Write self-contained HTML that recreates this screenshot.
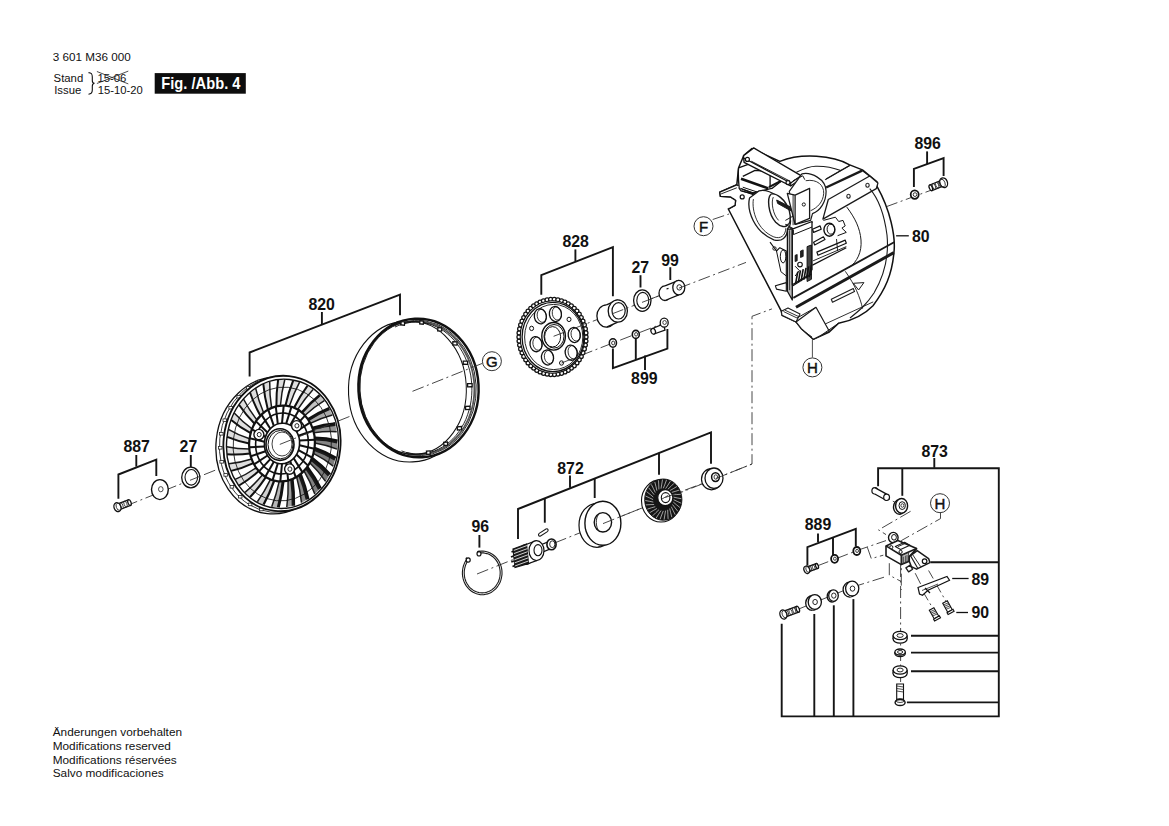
<!DOCTYPE html>
<html><head><meta charset="utf-8"><style>
html,body{margin:0;padding:0;background:#fff;}
body{width:1169px;height:826px;overflow:hidden;position:relative;}
svg{position:absolute;left:0;top:0;}
.lb{font-family:"Liberation Sans",sans-serif;font-weight:bold;fill:#111;}
.tx{font-family:"Liberation Sans",sans-serif;fill:#111;}
.br{fill:none;stroke:#151515;stroke-width:1.9;stroke-linecap:butt;stroke-linejoin:miter;}
.pt{fill:#fff;stroke:#111;stroke-width:1.3;}
.pn{fill:none;stroke:#111;stroke-width:1.3;}
.ld{fill:none;stroke:#111;stroke-width:1.3;}
.th{fill:none;stroke:#222;stroke-width:0.8;}
.bk{fill:#1a1a1a;stroke:none;}
.ax{fill:none;stroke:#333;stroke-width:0.9;stroke-dasharray:12 3.5 2 3.5;}
.cl{fill:#fff;stroke:#333;stroke-width:1;}
.cll{font-family:"Liberation Sans",sans-serif;font-weight:normal;font-size:15px;fill:#111;stroke:#111;stroke-width:0.45;text-anchor:middle;}
</style></head><body>
<svg width="1169" height="826" viewBox="0 0 1169 826">
<text transform="translate(52.8 61.1) scale(1.0 1)" class="tx" style="font-size:11.7px">3 601 M36 000</text>
<text transform="translate(53.6 81.8) scale(0.97 1)" class="tx" style="font-size:11.7px">Stand</text>
<text transform="translate(54.2 93.8) scale(0.97 1)" class="tx" style="font-size:11.7px">Issue</text>
<text transform="translate(97.4 82.2) scale(0.97 1)" class="tx" style="font-size:11.7px">15-06</text>
<text transform="translate(97.8 93.8) scale(0.96 1)" class="tx" style="font-size:11.7px">15-10-20</text>
<line x1="96.9" y1="71.5" x2="128.3" y2="83.9" class="th"/>
<line x1="96.9" y1="83.5" x2="128.3" y2="71.1" class="th"/>
<path d="M88.5,72.6 C92,72.8 92.3,74.5 92.3,77 L92.3,80.5 C92.3,82.3 93,83.2 94.5,83.3 C93,83.5 92.3,84.4 92.3,86.2 L92.3,90 C92.3,92.8 91.5,94 88.5,94.2" class="pn" style="stroke-width:1.1;stroke:#111"/>
<rect x="154.7" y="73.1" width="91.1" height="20.6" fill="#0d0d0d"/>
<text transform="translate(161.3 89) scale(0.845 1)" class="lb" style="font-size:17.4px;fill:#fff">Fig. /Abb. 4</text>
<text transform="translate(52.7 736.1) scale(1.01 1)" class="tx" style="font-size:11.7px">Änderungen vorbehalten</text>
<text transform="translate(52.7 749.8) scale(1.01 1)" class="tx" style="font-size:11.7px">Modifications reserved</text>
<text transform="translate(52.7 763.5) scale(1.01 1)" class="tx" style="font-size:11.7px">Modifications réservées</text>
<text transform="translate(52.7 777.2) scale(1.01 1)" class="tx" style="font-size:11.7px">Salvo modificaciones</text>
<text transform="translate(123.5 451.7) scale(0.955 1)" class="lb" style="font-size:16.6px">887</text>
<line x1="136.3" y1="455.0" x2="136.3" y2="466.6" class="br"/>
<polyline points="118.4,498.7 118.4,474.5 156.3,459.7 156.3,475.9" class="br" />
<text transform="translate(179.6 451.8) scale(0.955 1)" class="lb" style="font-size:16.6px">27</text>
<line x1="190.8" y1="455.0" x2="190.8" y2="467.0" class="br"/>
<text transform="translate(308.4 309.6) scale(0.955 1)" class="lb" style="font-size:16.6px">820</text>
<line x1="321.9" y1="312.0" x2="321.9" y2="324.7" class="br"/>
<polyline points="249.6,376.5 249.6,352.5 400.0,294.7 400.0,315.2" class="br" />
<text transform="translate(562.4 246.9) scale(0.955 1)" class="lb" style="font-size:16.6px">828</text>
<line x1="575.4" y1="249.4" x2="575.4" y2="261.0" class="br"/>
<polyline points="541.3,294.8 541.3,275.2 612.9,247.1 612.9,296.3" class="br" />
<text transform="translate(631.5 273.2) scale(0.955 1)" class="lb" style="font-size:16.6px">27</text>
<line x1="640.5" y1="275.2" x2="640.5" y2="287.5" class="br"/>
<text transform="translate(661.3 265.5) scale(0.955 1)" class="lb" style="font-size:16.6px">99</text>
<line x1="670.3" y1="267.2" x2="670.3" y2="280.0" class="br"/>
<text transform="translate(631.1 383.5) scale(0.955 1)" class="lb" style="font-size:16.6px">899</text>
<line x1="645.0" y1="355.5" x2="645.0" y2="370.0" class="br"/>
<polyline points="612.9,348.5 612.9,368.1 667.4,348.6 667.4,329.0" class="br" />
<line x1="635.8" y1="338.8" x2="635.8" y2="359.9" class="br"/>
<text transform="translate(914.4 148.5) scale(0.955 1)" class="lb" style="font-size:16.6px">896</text>
<line x1="927.1" y1="151.4" x2="927.1" y2="164.0" class="br"/>
<polyline points="913.9,187.0 913.9,168.8 943.6,158.1 943.6,176.0" class="br" />
<text transform="translate(911.9 241.5) scale(0.955 1)" class="lb" style="font-size:16.6px">80</text>
<line x1="896.1" y1="235.8" x2="908.8" y2="235.8" class="ld"/>
<text transform="translate(557.3 473.5) scale(0.955 1)" class="lb" style="font-size:16.6px">872</text>
<line x1="570.0" y1="475.6" x2="570.0" y2="487.8" class="br"/>
<polyline points="518.0,539.0 518.0,509.0 711.0,432.3 711.0,463.8" class="br" />
<line x1="544.8" y1="498.5" x2="544.8" y2="522.7" class="br"/>
<line x1="594.7" y1="478.7" x2="594.7" y2="498.0" class="br"/>
<line x1="659.0" y1="452.8" x2="659.0" y2="474.7" class="br"/>
<text transform="translate(471.5 532.1) scale(0.955 1)" class="lb" style="font-size:16.6px">96</text>
<line x1="479.4" y1="535.0" x2="479.4" y2="547.6" class="br"/>
<text transform="translate(921.4 456.5) scale(0.955 1)" class="lb" style="font-size:16.6px">873</text>
<line x1="934.3" y1="458.0" x2="934.3" y2="467.8" class="br"/>
<polyline points="878.1,486.2 878.1,468.2 998.8,468.2 998.8,716.4 781.7,716.4 781.7,623.8" class="br" />
<line x1="902.3" y1="468.2" x2="902.3" y2="495.8" class="br"/>
<line x1="930.4" y1="562.2" x2="998.8" y2="562.2" class="br"/>
<line x1="814.3" y1="716.4" x2="814.3" y2="614.0" class="br"/>
<line x1="833.8" y1="716.4" x2="833.8" y2="605.3" class="br"/>
<line x1="853.4" y1="716.4" x2="853.4" y2="599.1" class="br"/>
<line x1="911.0" y1="635.8" x2="998.8" y2="635.8" class="br"/>
<line x1="911.0" y1="652.6" x2="998.8" y2="652.6" class="br"/>
<line x1="911.0" y1="671.2" x2="998.8" y2="671.2" class="br"/>
<line x1="906.9" y1="702.4" x2="998.8" y2="702.4" class="br"/>
<text transform="translate(804.8 530.0) scale(0.955 1)" class="lb" style="font-size:16.6px">889</text>
<line x1="818.0" y1="533.6" x2="818.0" y2="542.3" class="br"/>
<polyline points="807.4,565.6 807.4,547.2 855.8,528.8 855.8,546.2" class="br" />
<line x1="833.0" y1="537.5" x2="833.0" y2="555.9" class="br"/>
<text transform="translate(971.4 584.5) scale(0.955 1)" class="lb" style="font-size:16.6px">89</text>
<line x1="952.2" y1="578.5" x2="968.6" y2="578.5" class="ld"/>
<text transform="translate(971.4 618.2) scale(0.955 1)" class="lb" style="font-size:16.6px">90</text>
<line x1="956.3" y1="612.5" x2="968.0" y2="612.5" class="ld"/>
<polyline points="126.0,505.9 222.0,467.5" class="ax" />
<polygon points="118.6,510.0 130.6,505.4 128.4,499.8 116.4,504.4" class="pt" />
<ellipse cx="121.5" cy="505.7" rx="1.4" ry="3.2" class="th" transform="rotate(-20.97349342132066 121.5 505.7)" />
<ellipse cx="125.5" cy="504.1" rx="1.4" ry="3.2" class="th" transform="rotate(-20.97349342132066 125.5 504.1)" />
<ellipse cx="129.5" cy="502.6" rx="1.5" ry="3.0" class="pt" transform="rotate(-20.97349342132066 129.5 502.6)" />
<ellipse cx="117.5" cy="507.2" rx="3.4" ry="4.6" class="pt" transform="rotate(-20.97349342132066 117.5 507.2)" />
<ellipse cx="118.6" cy="506.8" rx="2.3" ry="3.7" class="th" transform="rotate(-20.97349342132066 118.6 506.8)" />
<ellipse cx="159.9" cy="489.6" rx="8.4" ry="10.0" class="pt" style="stroke-width:1.4"/>
<ellipse cx="160.8" cy="489.2" rx="2.3" ry="2.6" class="th" />
<ellipse cx="190.8" cy="477.5" rx="9.1" ry="10.3" class="pt" style="stroke-width:1.3"/>
<ellipse cx="191.3" cy="477.3" rx="6.3" ry="7.8" class="pt" style="stroke-width:1.1"/>
<polyline points="190.0,480.3 200.0,476.3" class="ax" />
<ellipse cx="274.5" cy="445.5" rx="58.5" ry="68.5" class="pt" transform="rotate(6 274.5 445.5)" style="stroke-width:1.3"/>
<ellipse cx="278.0" cy="444.5" rx="58.5" ry="68.0" class="pn" transform="rotate(6 278.0 444.5)" style="stroke-width:0.8"/>
<rect x="259.5" y="508.2" width="3.6" height="2.6" class="th" style="fill:#fff"/>
<rect x="248.3" y="503.1" width="3.6" height="2.6" class="th" style="fill:#fff"/>
<rect x="238.4" y="495.4" width="3.6" height="2.6" class="th" style="fill:#fff"/>
<rect x="230.1" y="485.5" width="3.6" height="2.6" class="th" style="fill:#fff"/>
<rect x="223.9" y="473.6" width="3.6" height="2.6" class="th" style="fill:#fff"/>
<rect x="219.9" y="460.5" width="3.6" height="2.6" class="th" style="fill:#fff"/>
<rect x="218.4" y="446.5" width="3.6" height="2.6" class="th" style="fill:#fff"/>
<rect x="219.5" y="432.5" width="3.6" height="2.6" class="th" style="fill:#fff"/>
<rect x="223.0" y="418.9" width="3.6" height="2.6" class="th" style="fill:#fff"/>
<rect x="228.9" y="406.4" width="3.6" height="2.6" class="th" style="fill:#fff"/>
<rect x="236.9" y="395.4" width="3.6" height="2.6" class="th" style="fill:#fff"/>
<rect x="246.5" y="386.6" width="3.6" height="2.6" class="th" style="fill:#fff"/>
<rect x="257.5" y="380.2" width="3.6" height="2.6" class="th" style="fill:#fff"/>
<ellipse cx="282.0" cy="443.5" rx="58.5" ry="67.8" class="pt" transform="rotate(6 282.0 443.5)" style="stroke-width:1.8"/>
<ellipse cx="282.5" cy="443.8" rx="55.9" ry="64.7" class="pn" transform="rotate(6 282.5 443.8)" style="stroke-width:1.4"/>
<path d="M314.3,448.8 Q325.6,452.7 335.4,458.7" fill="none" stroke="#111" stroke-width="4.35"/>
<path d="M313.4,453.3 Q324.1,458.7 333.2,466.1" fill="none" stroke="#1a1a1a" stroke-width="1.5"/>
<path d="M314.3,448.8 Q325.6,452.7 335.4,458.7 L333.2,466.1 Q324.1,458.7 313.4,453.3 Z" fill="#222" stroke="none" opacity="0.59"/>
<path d="M311.6,458.7 Q321.4,466.0 329.4,474.9" fill="none" stroke="#111" stroke-width="4.39"/>
<path d="M309.7,462.8 Q318.7,471.4 325.6,481.4" fill="none" stroke="#1a1a1a" stroke-width="1.5"/>
<path d="M311.6,458.7 Q321.4,466.0 329.4,474.9 L325.6,481.4 Q318.7,471.4 309.7,462.8 Z" fill="#222" stroke="none" opacity="0.60"/>
<path d="M306.7,467.5 Q314.4,477.7 319.9,488.8" fill="none" stroke="#111" stroke-width="4.26"/>
<path d="M304.0,470.9 Q310.5,482.0 314.8,493.9" fill="none" stroke="#1a1a1a" stroke-width="1.5"/>
<path d="M306.7,467.5 Q314.4,477.7 319.9,488.8 L314.8,493.9 Q310.5,482.0 304.0,470.9 Z" fill="#222" stroke="none" opacity="0.57"/>
<path d="M300.0,474.6 Q304.9,486.8 307.6,499.3" fill="none" stroke="#111" stroke-width="3.95"/>
<path d="M296.6,476.9 Q300.2,489.8 301.5,502.7" fill="none" stroke="#1a1a1a" stroke-width="1.5"/>
<path d="M300.0,474.6 Q304.9,486.8 307.6,499.3 L301.5,502.7 Q300.2,489.8 296.6,476.9 Z" fill="#222" stroke="none" opacity="0.52"/>
<path d="M291.9,479.3 Q293.7,492.7 293.4,505.7" fill="none" stroke="#111" stroke-width="3.51"/>
<path d="M288.1,480.5 Q288.5,494.1 286.8,507.0" fill="none" stroke="#1a1a1a" stroke-width="1.5"/>
<path d="M291.9,479.3 Q293.7,492.7 293.4,505.7 L286.8,507.0 Q288.5,494.1 288.1,480.5 Z" fill="#222" stroke="none" opacity="0.43"/>
<path d="M283.1,481.3 Q281.7,494.9 278.3,507.4" fill="none" stroke="#111" stroke-width="2.95"/>
<path d="M279.2,481.4 Q276.4,494.7 271.7,506.7" fill="none" stroke="#1a1a1a" stroke-width="1.5"/>
<path d="M283.1,481.3 Q281.7,494.9 278.3,507.4 L271.7,506.7 Q276.4,494.7 279.2,481.4 Z" fill="#222" stroke="none" opacity="0.33"/>
<path d="M274.2,480.6 Q269.7,493.4 263.6,504.5" fill="none" stroke="#111" stroke-width="2.32"/>
<path d="M270.5,479.4 Q264.7,491.5 257.4,501.7" fill="none" stroke="#1a1a1a" stroke-width="1.5"/>
<path d="M274.2,480.6 Q269.7,493.4 263.6,504.5 L257.4,501.7 Q264.7,491.5 270.5,479.4 Z" fill="#222" stroke="none" opacity="0.21"/>
<path d="M265.9,477.1 Q258.6,488.1 250.1,497.0" fill="none" stroke="#111" stroke-width="2.00"/>
<path d="M262.6,474.8 Q254.2,484.7 245.0,492.4" fill="none" stroke="#1a1a1a" stroke-width="1.5"/>
<path d="M265.9,477.1 Q258.6,488.1 250.1,497.0 L245.0,492.4 Q254.2,484.7 262.6,474.8 Z" fill="#222" stroke="none" opacity="0.15"/>
<path d="M258.8,471.1 Q249.3,479.5 239.1,485.5" fill="none" stroke="#111" stroke-width="2.00"/>
<path d="M256.2,467.8 Q245.9,474.9 235.2,479.4" fill="none" stroke="#1a1a1a" stroke-width="1.5"/>
<path d="M258.8,471.1 Q249.3,479.5 239.1,485.5 L235.2,479.4 Q245.9,474.9 256.2,467.8 Z" fill="#222" stroke="none" opacity="0.15"/>
<path d="M253.4,463.1 Q242.3,468.3 231.2,470.9" fill="none" stroke="#111" stroke-width="2.00"/>
<path d="M251.7,459.0 Q240.2,462.7 229.0,463.8" fill="none" stroke="#1a1a1a" stroke-width="1.5"/>
<path d="M253.4,463.1 Q242.3,468.3 231.2,470.9 L229.0,463.8 Q240.2,462.7 251.7,459.0 Z" fill="#222" stroke="none" opacity="0.15"/>
<path d="M250.1,453.6 Q238.3,455.2 227.1,454.3" fill="none" stroke="#111" stroke-width="2.00"/>
<path d="M249.4,449.1 Q237.6,449.1 226.6,446.7" fill="none" stroke="#1a1a1a" stroke-width="1.5"/>
<path d="M250.1,453.6 Q238.3,455.2 227.1,454.3 L226.6,446.7 Q237.6,449.1 249.4,449.1 Z" fill="#222" stroke="none" opacity="0.15"/>
<path d="M249.2,443.4 Q237.6,441.2 227.1,436.9" fill="none" stroke="#111" stroke-width="2.00"/>
<path d="M249.6,438.8 Q238.3,435.1 228.4,429.3" fill="none" stroke="#1a1a1a" stroke-width="1.5"/>
<path d="M249.2,443.4 Q237.6,441.2 227.1,436.9 L228.4,429.3 Q238.3,435.1 249.6,438.8 Z" fill="#222" stroke="none" opacity="0.15"/>
<path d="M250.7,433.1 Q240.1,427.5 231.2,419.9" fill="none" stroke="#111" stroke-width="2.00"/>
<path d="M252.1,428.8 Q242.2,421.7 234.2,413.0" fill="none" stroke="#1a1a1a" stroke-width="1.5"/>
<path d="M250.7,433.1 Q240.1,427.5 231.2,419.9 L234.2,413.0 Q242.2,421.7 252.1,428.8 Z" fill="#222" stroke="none" opacity="0.15"/>
<path d="M254.6,423.7 Q245.8,414.9 239.0,404.8" fill="none" stroke="#111" stroke-width="2.00"/>
<path d="M256.9,419.9 Q249.1,410.0 243.5,399.0" fill="none" stroke="#1a1a1a" stroke-width="1.5"/>
<path d="M254.6,423.7 Q245.8,414.9 239.0,404.8 L243.5,399.0 Q249.1,410.0 256.9,419.9 Z" fill="#222" stroke="none" opacity="0.15"/>
<path d="M260.4,415.7 Q254.1,404.4 250.0,392.5" fill="none" stroke="#111" stroke-width="2.00"/>
<path d="M263.6,412.8 Q258.5,400.7 255.6,388.2" fill="none" stroke="#1a1a1a" stroke-width="1.5"/>
<path d="M260.4,415.7 Q254.1,404.4 250.0,392.5 L255.6,388.2 Q258.5,400.7 263.6,412.8 Z" fill="#222" stroke="none" opacity="0.15"/>
<path d="M267.9,409.8 Q264.5,396.8 263.3,383.9" fill="none" stroke="#111" stroke-width="2.00"/>
<path d="M271.6,407.9 Q269.5,394.6 269.7,381.6" fill="none" stroke="#1a1a1a" stroke-width="1.5"/>
<path d="M267.9,409.8 Q264.5,396.8 263.3,383.9 L269.7,381.6 Q269.5,394.6 271.6,407.9 Z" fill="#222" stroke="none" opacity="0.15"/>
<path d="M276.4,406.3 Q276.2,392.7 278.1,379.8" fill="none" stroke="#111" stroke-width="2.00"/>
<path d="M280.4,405.7 Q281.5,392.1 284.8,379.5" fill="none" stroke="#1a1a1a" stroke-width="1.5"/>
<path d="M276.4,406.3 Q276.2,392.7 278.1,379.8 L284.8,379.5 Q281.5,392.1 280.4,405.7 Z" fill="#222" stroke="none" opacity="0.15"/>
<path d="M285.4,405.7 Q288.3,392.4 293.2,380.5" fill="none" stroke="#111" stroke-width="2.00"/>
<path d="M289.3,406.3 Q293.6,393.4 299.6,382.2" fill="none" stroke="#1a1a1a" stroke-width="1.5"/>
<path d="M285.4,405.7 Q288.3,392.4 293.2,380.5 L299.6,382.2 Q293.6,393.4 289.3,406.3 Z" fill="#222" stroke="none" opacity="0.15"/>
<path d="M294.1,407.8 Q300.0,395.8 307.4,385.8" fill="none" stroke="#111" stroke-width="2.01"/>
<path d="M297.6,409.6 Q304.8,398.5 313.1,389.5" fill="none" stroke="#1a1a1a" stroke-width="1.5"/>
<path d="M294.1,407.8 Q300.0,395.8 307.4,385.8 L313.1,389.5 Q304.8,398.5 297.6,409.6 Z" fill="#222" stroke="none" opacity="0.15"/>
<path d="M301.8,412.6 Q310.3,402.8 319.7,395.3" fill="none" stroke="#111" stroke-width="2.66"/>
<path d="M304.8,415.5 Q314.2,406.9 324.3,400.7" fill="none" stroke="#1a1a1a" stroke-width="1.5"/>
<path d="M301.8,412.6 Q310.3,402.8 319.7,395.3 L324.3,400.7 Q314.2,406.9 304.8,415.5 Z" fill="#222" stroke="none" opacity="0.27"/>
<path d="M308.2,419.7 Q318.6,412.8 329.3,408.5" fill="none" stroke="#111" stroke-width="3.26"/>
<path d="M310.3,423.4 Q321.3,418.0 332.4,415.1" fill="none" stroke="#1a1a1a" stroke-width="1.5"/>
<path d="M308.2,419.7 Q318.6,412.8 329.3,408.5 L332.4,415.1 Q321.3,418.0 310.3,423.4 Z" fill="#222" stroke="none" opacity="0.39"/>
<path d="M312.5,428.5 Q324.1,425.1 335.3,424.2" fill="none" stroke="#111" stroke-width="3.76"/>
<path d="M313.8,432.8 Q325.5,431.0 336.7,431.7" fill="none" stroke="#1a1a1a" stroke-width="1.5"/>
<path d="M312.5,428.5 Q324.1,425.1 335.3,424.2 L336.7,431.7 Q325.5,431.0 313.8,432.8 Z" fill="#222" stroke="none" opacity="0.48"/>
<path d="M314.7,438.5 Q326.5,438.7 337.4,441.4" fill="none" stroke="#111" stroke-width="4.14"/>
<path d="M314.8,443.0 Q326.5,444.9 337.0,449.1" fill="none" stroke="#1a1a1a" stroke-width="1.5"/>
<path d="M314.7,438.5 Q326.5,438.7 337.4,441.4 L337.0,449.1 Q326.5,444.9 314.8,443.0 Z" fill="#222" stroke="none" opacity="0.55"/>
<ellipse cx="282.3" cy="444.0" rx="49.1" ry="57.0" class="pn" transform="rotate(6 282.3 444.0)" style="stroke-width:0.8"/>
<ellipse cx="282.0" cy="443.5" rx="32.8" ry="38.0" class="pn" transform="rotate(6 282.0 443.5)" style="stroke-width:2.2"/>
<ellipse cx="282.0" cy="443.5" rx="26.3" ry="30.5" class="pn" transform="rotate(6 282.0 443.5)" style="stroke-width:1.6"/>
<ellipse cx="282.0" cy="443.5" rx="17.6" ry="20.3" class="pn" transform="rotate(6 282.0 443.5)" style="stroke-width:1.6"/>
<line x1="299.5" y1="445.3" x2="314.3" y2="448.8" stroke="#111" stroke-width="2.0"/>
<line x1="298.4" y1="450.1" x2="312.1" y2="457.6" stroke="#111" stroke-width="2.0"/>
<line x1="296.5" y1="454.5" x2="308.0" y2="465.6" stroke="#111" stroke-width="2.0"/>
<line x1="293.7" y1="458.3" x2="302.5" y2="472.4" stroke="#111" stroke-width="2.0"/>
<line x1="290.2" y1="461.2" x2="295.8" y2="477.4" stroke="#111" stroke-width="2.0"/>
<line x1="286.2" y1="463.1" x2="288.2" y2="480.5" stroke="#111" stroke-width="2.0"/>
<line x1="282.0" y1="463.8" x2="280.3" y2="481.4" stroke="#111" stroke-width="2.0"/>
<line x1="277.8" y1="463.4" x2="272.6" y2="480.1" stroke="#111" stroke-width="2.0"/>
<line x1="273.8" y1="461.8" x2="265.3" y2="476.7" stroke="#111" stroke-width="2.0"/>
<line x1="270.3" y1="459.1" x2="259.0" y2="471.4" stroke="#111" stroke-width="2.0"/>
<line x1="267.5" y1="455.5" x2="254.1" y2="464.4" stroke="#111" stroke-width="2.0"/>
<line x1="265.6" y1="451.3" x2="250.8" y2="456.2" stroke="#111" stroke-width="2.0"/>
<line x1="264.5" y1="446.6" x2="249.3" y2="447.3" stroke="#111" stroke-width="2.0"/>
<line x1="264.5" y1="441.7" x2="249.7" y2="438.2" stroke="#111" stroke-width="2.0"/>
<line x1="265.6" y1="436.9" x2="251.9" y2="429.4" stroke="#111" stroke-width="2.0"/>
<line x1="267.5" y1="432.5" x2="256.0" y2="421.4" stroke="#111" stroke-width="2.0"/>
<line x1="270.3" y1="428.7" x2="261.5" y2="414.6" stroke="#111" stroke-width="2.0"/>
<line x1="273.8" y1="425.8" x2="268.2" y2="409.6" stroke="#111" stroke-width="2.0"/>
<line x1="277.8" y1="423.9" x2="275.8" y2="406.5" stroke="#111" stroke-width="2.0"/>
<line x1="282.0" y1="423.2" x2="283.7" y2="405.6" stroke="#111" stroke-width="2.0"/>
<line x1="286.2" y1="423.6" x2="291.4" y2="406.9" stroke="#111" stroke-width="2.0"/>
<line x1="290.2" y1="425.2" x2="298.7" y2="410.3" stroke="#111" stroke-width="2.0"/>
<line x1="293.7" y1="427.9" x2="305.0" y2="415.6" stroke="#111" stroke-width="2.0"/>
<line x1="296.5" y1="431.5" x2="309.9" y2="422.6" stroke="#111" stroke-width="2.0"/>
<line x1="298.4" y1="435.7" x2="313.2" y2="430.8" stroke="#111" stroke-width="2.0"/>
<line x1="299.5" y1="440.4" x2="314.7" y2="439.7" stroke="#111" stroke-width="2.0"/>
<ellipse cx="280.0" cy="444.6" rx="14.0" ry="15.8" class="pt" style="stroke-width:1.6"/>
<ellipse cx="280.5" cy="444.6" rx="12.5" ry="14.2" class="pn" style="stroke-width:1.0"/>
<ellipse cx="282.0" cy="444.0" rx="10.0" ry="12.0" class="pn" style="stroke-width:0.8"/>
<ellipse cx="258.9" cy="434.6" rx="5.0" ry="5.2" class="pt" style="stroke-width:1.4"/>
<ellipse cx="259.2" cy="434.6" rx="2.0" ry="2.2" class="pn" style="stroke-width:0.9"/>
<ellipse cx="296.6" cy="425.8" rx="5.0" ry="5.2" class="pt" style="stroke-width:1.4"/>
<ellipse cx="296.9" cy="425.8" rx="2.0" ry="2.2" class="pn" style="stroke-width:0.9"/>
<ellipse cx="289.6" cy="469.1" rx="5.0" ry="5.2" class="pt" style="stroke-width:1.4"/>
<ellipse cx="289.9" cy="469.1" rx="2.0" ry="2.2" class="pn" style="stroke-width:0.9"/>
<polyline points="279.8,444.4 350.0,416.3" class="ax" />
<ellipse cx="409.0" cy="391.5" rx="60.5" ry="70.5" class="pt" transform="rotate(-3 409.0 391.5)" style="stroke-width:1.1"/>
<ellipse cx="418.5" cy="388.0" rx="60.1" ry="69.3" class="pt" transform="rotate(-3 418.5 388.0)" style="stroke-width:2.4"/>
<ellipse cx="418.0" cy="388.0" rx="58.2" ry="67.7" class="pn" transform="rotate(-3 418.0 388.0)" style="stroke-width:0.9"/>
<path d="M399.8,324.5 L403.8,323.2 L407.8,322.3 L412.0,321.7 L416.1,321.4 L420.2,321.5 L424.4,322.0 L428.5,322.8 L432.5,324.0 L436.5,325.5 L440.4,327.4 L444.1,329.6 L447.7,332.1 L451.1,334.9 L454.4,337.9 L457.5,341.3 L460.3,344.9 L462.9,348.7 L465.3,352.8 L467.5,357.0 L469.3,361.4 L470.9,365.9 L472.2,370.6 L473.2,375.4 L473.9,380.2 L474.3,385.0 L474.4,389.9 L474.2,394.8 L473.7,399.6 L472.9,404.4 L471.8,409.1 L470.4,413.6 L468.8,418.1 L466.8,422.3 L464.6,426.4 L462.1,430.3 L459.4,434.0 L456.5,437.4 L453.4,440.5 L450.1,443.4 L446.6,445.9 L442.9,448.2 L439.1,450.1 L435.2,451.7 L431.2,452.9 L427.2,453.8 L423.1,454.4 L418.9,454.6 L414.8,454.4 L410.6,453.9 L406.5,453.0" fill="none" stroke="#555" stroke-width="1.8"/>
<path d="M395.0,327.0 L398.9,325.3 L403.0,323.9 L407.1,322.9 L411.3,322.3 L415.5,322.0 L419.7,322.2 L423.9,322.7 L428.0,323.6 L432.1,324.9 L436.1,326.6 L440.0,328.7 L443.8,331.0 L447.4,333.8 L450.8,336.8 L454.0,340.1 L457.0,343.8 L459.8,347.7 L462.3,351.8 L464.6,356.1 L466.5,360.6 L468.2,365.3 L469.6,370.2 L470.7,375.1 L471.4,380.1 L471.8,385.1 L471.9,390.2 L471.7,395.2 L471.2,400.3 L470.3,405.2 L469.1,410.0 L467.6,414.7 L465.9,419.3 L463.8,423.6 L461.4,427.8 L458.8,431.7 L456.0,435.4 L452.9,438.8 L449.6,441.8 L446.1,444.6 L442.5,447.0 L438.6,449.1 L434.7,450.9 L430.7,452.2 L426.5,453.2 L422.4,453.8 L418.2,454.0 L413.9,453.8 L409.7,453.2 L405.6,452.3 L401.5,450.9" fill="none" stroke="#111" stroke-width="0.9"/>
<ellipse cx="413.0" cy="388.0" rx="53.3" ry="66.4" class="pn" transform="rotate(-3 413.0 388.0)" style="stroke-width:1.0"/>
<rect x="401.0" y="321.8" width="3.6" height="3.2" fill="#fff" stroke="#111" stroke-width="1.3" transform="rotate(6 402.8 323.4)"/>
<rect x="419.8" y="320.9" width="3.6" height="3.2" fill="#fff" stroke="#111" stroke-width="1.3" transform="rotate(5 421.6 322.5)"/>
<rect x="437.8" y="327.8" width="3.9" height="3.2" fill="#fff" stroke="#111" stroke-width="1.3" transform="rotate(4 439.7 329.4)"/>
<rect x="452.8" y="341.8" width="4.2" height="3.2" fill="#fff" stroke="#111" stroke-width="1.3" transform="rotate(2 454.9 343.4)"/>
<rect x="463.2" y="361.1" width="4.4" height="3.2" fill="#fff" stroke="#111" stroke-width="1.3" transform="rotate(1 465.4 362.7)"/>
<rect x="467.6" y="383.6" width="4.5" height="3.2" fill="#fff" stroke="#111" stroke-width="1.3" transform="rotate(-1 469.9 385.2)"/>
<rect x="465.6" y="406.3" width="4.4" height="3.2" fill="#fff" stroke="#111" stroke-width="1.3" transform="rotate(-2 467.8 407.9)"/>
<rect x="457.3" y="426.7" width="4.2" height="3.2" fill="#fff" stroke="#111" stroke-width="1.3" transform="rotate(-4 459.4 428.3)"/>
<rect x="443.8" y="442.2" width="3.8" height="3.2" fill="#fff" stroke="#111" stroke-width="1.3" transform="rotate(-5 445.7 443.8)"/>
<rect x="426.6" y="451.0" width="3.6" height="3.2" fill="#fff" stroke="#111" stroke-width="1.3" transform="rotate(-5 428.4 452.6)"/>
<polyline points="412.5,391.3 482.5,363.3" class="ax" />
<ellipse cx="552.5" cy="337.0" rx="33.0" ry="37.0" class="pt" style="stroke-width:1.2"/>
<circle cx="586.0" cy="337.0" r="2.05" fill="#fff" stroke="#111" stroke-width="1.25"/>
<circle cx="585.9" cy="341.1" r="2.05" fill="#fff" stroke="#111" stroke-width="1.25"/>
<circle cx="585.3" cy="345.1" r="2.05" fill="#fff" stroke="#111" stroke-width="1.25"/>
<circle cx="584.3" cy="349.0" r="2.05" fill="#fff" stroke="#111" stroke-width="1.25"/>
<circle cx="582.9" cy="352.8" r="2.05" fill="#fff" stroke="#111" stroke-width="1.25"/>
<circle cx="581.2" cy="356.4" r="2.05" fill="#fff" stroke="#111" stroke-width="1.25"/>
<circle cx="579.2" cy="359.8" r="2.05" fill="#fff" stroke="#111" stroke-width="1.25"/>
<circle cx="576.9" cy="362.9" r="2.05" fill="#fff" stroke="#111" stroke-width="1.25"/>
<circle cx="574.2" cy="365.7" r="2.05" fill="#fff" stroke="#111" stroke-width="1.25"/>
<circle cx="571.3" cy="368.1" r="2.05" fill="#fff" stroke="#111" stroke-width="1.25"/>
<circle cx="568.2" cy="370.2" r="2.05" fill="#fff" stroke="#111" stroke-width="1.25"/>
<circle cx="564.9" cy="371.9" r="2.05" fill="#fff" stroke="#111" stroke-width="1.25"/>
<circle cx="561.5" cy="373.2" r="2.05" fill="#fff" stroke="#111" stroke-width="1.25"/>
<circle cx="557.9" cy="374.1" r="2.05" fill="#fff" stroke="#111" stroke-width="1.25"/>
<circle cx="554.3" cy="374.6" r="2.05" fill="#fff" stroke="#111" stroke-width="1.25"/>
<circle cx="550.7" cy="374.6" r="2.05" fill="#fff" stroke="#111" stroke-width="1.25"/>
<circle cx="547.1" cy="374.1" r="2.05" fill="#fff" stroke="#111" stroke-width="1.25"/>
<circle cx="543.5" cy="373.2" r="2.05" fill="#fff" stroke="#111" stroke-width="1.25"/>
<circle cx="540.1" cy="371.9" r="2.05" fill="#fff" stroke="#111" stroke-width="1.25"/>
<circle cx="536.8" cy="370.2" r="2.05" fill="#fff" stroke="#111" stroke-width="1.25"/>
<circle cx="533.7" cy="368.1" r="2.05" fill="#fff" stroke="#111" stroke-width="1.25"/>
<circle cx="530.8" cy="365.7" r="2.05" fill="#fff" stroke="#111" stroke-width="1.25"/>
<circle cx="528.1" cy="362.9" r="2.05" fill="#fff" stroke="#111" stroke-width="1.25"/>
<circle cx="525.8" cy="359.8" r="2.05" fill="#fff" stroke="#111" stroke-width="1.25"/>
<circle cx="523.8" cy="356.4" r="2.05" fill="#fff" stroke="#111" stroke-width="1.25"/>
<circle cx="522.1" cy="352.8" r="2.05" fill="#fff" stroke="#111" stroke-width="1.25"/>
<circle cx="520.7" cy="349.0" r="2.05" fill="#fff" stroke="#111" stroke-width="1.25"/>
<circle cx="519.7" cy="345.1" r="2.05" fill="#fff" stroke="#111" stroke-width="1.25"/>
<circle cx="519.1" cy="341.1" r="2.05" fill="#fff" stroke="#111" stroke-width="1.25"/>
<circle cx="519.0" cy="337.0" r="2.05" fill="#fff" stroke="#111" stroke-width="1.25"/>
<circle cx="519.1" cy="332.9" r="2.05" fill="#fff" stroke="#111" stroke-width="1.25"/>
<circle cx="519.7" cy="328.9" r="2.05" fill="#fff" stroke="#111" stroke-width="1.25"/>
<circle cx="520.7" cy="325.0" r="2.05" fill="#fff" stroke="#111" stroke-width="1.25"/>
<circle cx="522.1" cy="321.2" r="2.05" fill="#fff" stroke="#111" stroke-width="1.25"/>
<circle cx="523.8" cy="317.6" r="2.05" fill="#fff" stroke="#111" stroke-width="1.25"/>
<circle cx="525.8" cy="314.2" r="2.05" fill="#fff" stroke="#111" stroke-width="1.25"/>
<circle cx="528.1" cy="311.1" r="2.05" fill="#fff" stroke="#111" stroke-width="1.25"/>
<circle cx="530.8" cy="308.3" r="2.05" fill="#fff" stroke="#111" stroke-width="1.25"/>
<circle cx="533.7" cy="305.9" r="2.05" fill="#fff" stroke="#111" stroke-width="1.25"/>
<circle cx="536.8" cy="303.8" r="2.05" fill="#fff" stroke="#111" stroke-width="1.25"/>
<circle cx="540.1" cy="302.1" r="2.05" fill="#fff" stroke="#111" stroke-width="1.25"/>
<circle cx="543.5" cy="300.8" r="2.05" fill="#fff" stroke="#111" stroke-width="1.25"/>
<circle cx="547.1" cy="299.9" r="2.05" fill="#fff" stroke="#111" stroke-width="1.25"/>
<circle cx="550.7" cy="299.4" r="2.05" fill="#fff" stroke="#111" stroke-width="1.25"/>
<circle cx="554.3" cy="299.4" r="2.05" fill="#fff" stroke="#111" stroke-width="1.25"/>
<circle cx="557.9" cy="299.9" r="2.05" fill="#fff" stroke="#111" stroke-width="1.25"/>
<circle cx="561.5" cy="300.8" r="2.05" fill="#fff" stroke="#111" stroke-width="1.25"/>
<circle cx="564.9" cy="302.1" r="2.05" fill="#fff" stroke="#111" stroke-width="1.25"/>
<circle cx="568.2" cy="303.8" r="2.05" fill="#fff" stroke="#111" stroke-width="1.25"/>
<circle cx="571.3" cy="305.9" r="2.05" fill="#fff" stroke="#111" stroke-width="1.25"/>
<circle cx="574.2" cy="308.3" r="2.05" fill="#fff" stroke="#111" stroke-width="1.25"/>
<circle cx="576.9" cy="311.1" r="2.05" fill="#fff" stroke="#111" stroke-width="1.25"/>
<circle cx="579.2" cy="314.2" r="2.05" fill="#fff" stroke="#111" stroke-width="1.25"/>
<circle cx="581.2" cy="317.6" r="2.05" fill="#fff" stroke="#111" stroke-width="1.25"/>
<circle cx="582.9" cy="321.2" r="2.05" fill="#fff" stroke="#111" stroke-width="1.25"/>
<circle cx="584.3" cy="325.0" r="2.05" fill="#fff" stroke="#111" stroke-width="1.25"/>
<circle cx="585.3" cy="328.9" r="2.05" fill="#fff" stroke="#111" stroke-width="1.25"/>
<circle cx="585.9" cy="332.9" r="2.05" fill="#fff" stroke="#111" stroke-width="1.25"/>
<ellipse cx="552.5" cy="337.0" rx="32.3" ry="36.2" class="pt" style="stroke-width:1.1"/>
<ellipse cx="553.0" cy="337.0" rx="30.9" ry="34.6" class="pn" style="stroke-width:1.3"/>
<ellipse cx="553.7" cy="337.0" rx="29.1" ry="32.6" class="pn" style="stroke-width:0.9"/>
<ellipse cx="540.3" cy="316.3" rx="6.0" ry="7.6" class="pt" transform="rotate(-10 540.3 316.3)" style="stroke-width:1.3"/>
<ellipse cx="541.8" cy="315.8" rx="4.6" ry="6.6" class="pn" transform="rotate(-10 541.8 315.8)" style="stroke-width:0.8"/>
<ellipse cx="555.4" cy="314.0" rx="6.0" ry="7.6" class="pt" transform="rotate(-10 555.4 314.0)" style="stroke-width:1.3"/>
<ellipse cx="556.9" cy="313.5" rx="4.6" ry="6.6" class="pn" transform="rotate(-10 556.9 313.5)" style="stroke-width:0.8"/>
<ellipse cx="574.2" cy="335.0" rx="6.0" ry="7.6" class="pt" transform="rotate(-10 574.2 335.0)" style="stroke-width:1.3"/>
<ellipse cx="575.7" cy="334.5" rx="4.6" ry="6.6" class="pn" transform="rotate(-10 575.7 334.5)" style="stroke-width:0.8"/>
<ellipse cx="571.2" cy="352.7" rx="6.0" ry="7.6" class="pt" transform="rotate(-10 571.2 352.7)" style="stroke-width:1.3"/>
<ellipse cx="572.7" cy="352.2" rx="4.6" ry="6.6" class="pn" transform="rotate(-10 572.7 352.2)" style="stroke-width:0.8"/>
<ellipse cx="547.5" cy="357.5" rx="6.0" ry="7.6" class="pt" transform="rotate(-10 547.5 357.5)" style="stroke-width:1.3"/>
<ellipse cx="549.0" cy="357.0" rx="4.6" ry="6.6" class="pn" transform="rotate(-10 549.0 357.0)" style="stroke-width:0.8"/>
<ellipse cx="536.0" cy="344.2" rx="6.0" ry="7.6" class="pt" transform="rotate(-10 536.0 344.2)" style="stroke-width:1.3"/>
<ellipse cx="537.5" cy="343.7" rx="4.6" ry="6.6" class="pn" transform="rotate(-10 537.5 343.7)" style="stroke-width:0.8"/>
<ellipse cx="569.0" cy="319.4" rx="2.0" ry="2.2" class="pt" style="stroke-width:1"/>
<ellipse cx="531.6" cy="328.4" rx="2.0" ry="2.2" class="pt" style="stroke-width:1"/>
<ellipse cx="561.5" cy="363.0" rx="2.0" ry="2.2" class="pt" style="stroke-width:1"/>
<ellipse cx="553.6" cy="336.3" rx="11.8" ry="13.8" class="pt" style="stroke-width:1.4"/>
<ellipse cx="554.0" cy="336.3" rx="10.0" ry="11.8" class="pn" style="stroke-width:1.0"/>
<ellipse cx="552.6" cy="336.8" rx="8.0" ry="10.2" class="pn" style="stroke-width:1.0"/>
<polyline points="553.6,336.3 600.0,318.5" class="ax" />
<ellipse cx="606.5" cy="316.0" rx="9.6" ry="11.2" class="pt" style="stroke-width:1.3"/>
<polygon points="606.5,304.8 617.8,299.8 617.8,322.2 606.5,327.2" class="pt" style="stroke:none"/>
<line x1="606.5" y1="304.8" x2="617.8" y2="299.8" class="pn"/>
<line x1="606.5" y1="327.2" x2="617.8" y2="322.2" class="pn"/>
<ellipse cx="617.8" cy="311.0" rx="9.6" ry="11.2" class="pt" style="stroke-width:1.3"/>
<ellipse cx="618.6" cy="310.8" rx="6.6" ry="8.2" class="pn" style="stroke-width:1.2"/>
<polyline points="612.0,313.9 660.0,295.4" class="ax" />
<ellipse cx="642.3" cy="300.6" rx="8.7" ry="10.7" class="pt" style="stroke-width:1.3"/>
<ellipse cx="642.8" cy="300.4" rx="6.0" ry="8.0" class="pn" style="stroke-width:1.1"/>
<polyline points="642.0,302.4 672.0,290.8" class="ax" />
<ellipse cx="665.0" cy="293.2" rx="6.0" ry="7.3" class="pt" style="stroke-width:1.3"/>
<polygon points="665.0,285.9 678.8,280.3 678.8,294.9 665.0,300.5" class="pt" style="stroke:none"/>
<line x1="665.0" y1="285.9" x2="678.8" y2="280.3" class="pn"/>
<line x1="665.0" y1="300.5" x2="678.8" y2="294.9" class="pn"/>
<ellipse cx="678.8" cy="287.6" rx="6.0" ry="7.3" class="pt" style="stroke-width:1.3"/>
<ellipse cx="679.3" cy="287.4" rx="2.4" ry="2.7" class="pn" style="stroke-width:0.9"/>
<line x1="666.5" y1="289.0" x2="668.5" y2="288.3" class="pn"/>
<polyline points="679.0,288.1 746.0,262.4" class="ax" />
<polyline points="561.5,363.0 660.0,324.6" class="ax" />
<ellipse cx="612.9" cy="343.0" rx="3.6" ry="4.2" class="pt" style="stroke-width:1.5"/>
<ellipse cx="613.2" cy="343.0" rx="1.6" ry="1.9" class="pn" style="stroke-width:0.8"/>
<ellipse cx="635.8" cy="334.4" rx="3.5" ry="4.0" class="pt" style="stroke-width:1.6"/>
<ellipse cx="636.1" cy="334.3" rx="1.5" ry="1.8" class="pn" style="stroke-width:0.8"/>
<polygon points="652.5,328.5 663.5,324.0 665.0,330.0 654.0,334.0" class="pt" />
<ellipse cx="653.2" cy="331.3" rx="2.2" ry="2.9" class="pt" transform="rotate(-22 653.2 331.3)" />
<ellipse cx="664.2" cy="322.7" rx="4.0" ry="4.5" class="pt" style="stroke-width:1.3"/>
<ellipse cx="664.6" cy="322.5" rx="1.8" ry="2.0" class="th" />
<polyline points="712.7,219.5 729.0,214.0" class="ax" />
<polyline points="846.7,221.3 930.0,190.6" class="ax" />
<ellipse cx="914.7" cy="194.6" rx="4.0" ry="4.2" class="pt" style="stroke-width:1.8"/>
<ellipse cx="915.0" cy="194.6" rx="1.8" ry="1.9" class="pn" style="stroke-width:0.8"/>
<polygon points="942.5,179.9 929.7,185.0 931.9,190.6 944.7,185.5" class="pt" />
<ellipse cx="940.4" cy="184.0" rx="1.4" ry="3.2" class="th" transform="rotate(158.27580849858617 940.4 184.0)" />
<ellipse cx="937.2" cy="185.2" rx="1.4" ry="3.2" class="th" transform="rotate(158.27580849858617 937.2 185.2)" />
<ellipse cx="934.0" cy="186.5" rx="1.4" ry="3.2" class="th" transform="rotate(158.27580849858617 934.0 186.5)" />
<ellipse cx="930.8" cy="187.8" rx="1.5" ry="3.0" class="pt" transform="rotate(158.27580849858617 930.8 187.8)" />
<ellipse cx="943.6" cy="182.7" rx="3.8" ry="5.0" class="pt" transform="rotate(158.27580849858617 943.6 182.7)" />
<ellipse cx="942.5" cy="183.1" rx="2.5" ry="4.0" class="th" transform="rotate(158.27580849858617 942.5 183.1)" />
<polyline points="477.0,574.0 752.0,464.0 752.0,316.3 771.9,308.9" class="ax" />
<path d="M477.4,551.7 L479.2,551.3 L481.1,551.1 L483.0,551.1 L484.8,551.3 L486.7,551.7 L488.4,552.2 L490.2,553.0 L491.9,553.9 L493.4,555.0 L494.9,556.2 L496.3,557.6 L497.5,559.1 L498.7,560.8 L499.6,562.5 L500.4,564.4 L501.1,566.3 L501.6,568.3 L501.9,570.3 L502.0,572.4 L502.0,574.4 L501.7,576.5 L501.3,578.5 L500.8,580.4 L500.1,582.3 L499.2,584.1 L498.1,585.8 L497.0,587.4 L495.7,588.9 L494.2,590.2 L492.7,591.4 L491.1,592.4 L489.4,593.2 L487.6,593.9 L485.8,594.3 L483.9,594.6 L482.1,594.7 L480.2,594.6 L478.4,594.3 L476.5,593.8 L474.8,593.1 L473.1,592.3 L471.5,591.2 L470.0,590.0 L468.5,588.7 L467.3,587.2 L466.1,585.6 L465.1,583.9 L464.2,582.0 L463.5,580.1 L463.0,578.2 L462.6,576.2 L462.4,574.1 L462.4,572.1 L462.6,570.0 L462.9,568.0 L463.4,566.0 L464.1,564.1 L464.9,562.3 L465.9,560.5 L467.0,558.9 M478.5,553.3 L480.1,553.0 L481.8,552.9 L483.5,552.9 L485.1,553.2 L486.8,553.6 L488.4,554.1 L489.9,554.8 L491.4,555.7 L492.8,556.7 L494.1,557.9 L495.3,559.2 L496.4,560.6 L497.4,562.1 L498.2,563.7 L498.9,565.4 L499.4,567.2 L499.8,569.0 L500.1,570.8 L500.2,572.7 L500.1,574.5 L499.9,576.4 L499.6,578.2 L499.0,580.0 L498.4,581.7 L497.6,583.3 L496.6,584.8 L495.6,586.3 L494.4,587.6 L493.1,588.8 L491.7,589.9 L490.3,590.8 L488.7,591.5 L487.2,592.1 L485.5,592.6 L483.9,592.8 L482.2,592.9 L480.5,592.8 L478.9,592.6 L477.2,592.1 L475.7,591.5 L474.1,590.8 L472.7,589.9 L471.3,588.8 L470.0,587.6 L468.8,586.3 L467.8,584.8 L466.8,583.3 L466.0,581.7 L465.4,580.0 L464.8,578.2 L464.5,576.4 L464.3,574.5 L464.2,572.7 L464.3,570.8 L464.6,569.0 L465.0,567.2 L465.5,565.4 L466.2,563.7 L467.0,562.1 L468.0,560.6" fill="none" stroke="#1a1a1a" stroke-width="1.1"/>
<ellipse cx="479.0" cy="553.8" rx="2.0" ry="2.2" class="pt" style="stroke-width:1.2"/>
<ellipse cx="468.2" cy="560.0" rx="2.0" ry="2.2" class="pt" style="stroke-width:1.2"/>
<line x1="477.5" y1="551.6" x2="479.5" y2="551.2" class="pn"/>
<line x1="465.8" y1="558.8" x2="467.0" y2="557.6" class="pn"/>
<ellipse cx="540.5" cy="549.0" rx="3.6" ry="4.0" class="pt" style="stroke-width:1.1"/>
<polygon points="540.5,545.0 551.5,540.4 551.5,548.4 540.5,553.0" class="pt" style="stroke:none"/>
<line x1="540.5" y1="545.0" x2="551.5" y2="540.4" class="pn"/>
<line x1="540.5" y1="553.0" x2="551.5" y2="548.4" class="pn"/>
<ellipse cx="551.5" cy="544.4" rx="3.6" ry="4.0" class="pt" style="stroke-width:1.1"/>
<ellipse cx="551.5" cy="544.4" rx="4.6" ry="5.4" class="pt" style="stroke-width:1.6"/>
<ellipse cx="552.3" cy="544.2" rx="2.6" ry="3.4" class="pn" style="stroke-width:0.9"/>
<ellipse cx="526.0" cy="554.5" rx="7.5" ry="10.0" class="pt" style="stroke-width:1.2"/>
<polygon points="526.0,544.5 536.5,540.6 536.5,560.6 526.0,564.5" class="pt" style="stroke:none"/>
<line x1="526.0" y1="544.5" x2="536.5" y2="540.6" class="pn"/>
<line x1="526.0" y1="564.5" x2="536.5" y2="560.6" class="pn"/>
<ellipse cx="536.5" cy="550.6" rx="7.5" ry="10.0" class="pt" style="stroke-width:1.2"/>
<ellipse cx="538.0" cy="550.2" rx="4.0" ry="5.6" class="pn" style="stroke-width:1.1"/>
<polygon points="513.0,549.0 526.5,544.0 528.5,563.5 515.0,567.5" class="pt" style="fill:#1a1a1a;stroke:#111;stroke-width:1.2"/>
<path d="M513.6,550.5 L527.1,545.5" stroke="#fff" stroke-width="0.8" fill="none"/>
<path d="M513.9,553.6 L527.4,548.6" stroke="#fff" stroke-width="0.8" fill="none"/>
<path d="M514.1,556.7 L527.6,551.7" stroke="#fff" stroke-width="0.8" fill="none"/>
<path d="M514.4,559.8 L527.9,554.8" stroke="#fff" stroke-width="0.8" fill="none"/>
<path d="M514.6,562.9 L528.1,557.9" stroke="#fff" stroke-width="0.8" fill="none"/>
<path d="M514.9,566.0 L528.4,561.0" stroke="#fff" stroke-width="0.8" fill="none"/>
<path d="M511.5,552.0 l2.5,-1" stroke="#111" stroke-width="1.6" fill="none"/>
<path d="M511.0,557.0 l2.5,-1" stroke="#111" stroke-width="1.6" fill="none"/>
<path d="M511.3,562.0 l2.5,-1" stroke="#111" stroke-width="1.6" fill="none"/>
<path d="M512.5,566.5 l2.5,-1" stroke="#111" stroke-width="1.6" fill="none"/>
<path d="M539.2,533.4 L546,529.0 C548,528.2 548.8,530.5 547.4,531.6 L540.6,535.9 C538.6,536.8 537.8,534.5 539.2,533.4 Z" fill="#fff" stroke="#1a1a1a" stroke-width="1.1"/>
<ellipse cx="597.0" cy="525.3" rx="18.0" ry="22.0" class="pt" style="stroke-width:1.2"/>
<polygon points="597.0,503.3 602.9,501.3 602.9,545.3 597.0,547.3" class="pt" style="stroke:none"/>
<path d="M597,503.3 L602.9,501.3 M597,547.3 L602.9,545.3" stroke="#1a1a1a" stroke-width="1.0"/>
<ellipse cx="602.9" cy="523.3" rx="18.0" ry="22.0" class="pt" style="stroke-width:1.4"/>
<ellipse cx="602.9" cy="522.3" rx="8.7" ry="9.7" class="pt" style="stroke-width:1.4"/>
<path d="M598.5,514.5 C595.5,518 595.5,527 599,531" fill="none" stroke="#1a1a1a" stroke-width="0.9"/>
<polyline points="603.0,523.6 643.0,507.6" class="ax" />
<ellipse cx="661.0" cy="500.8" rx="19.5" ry="21.2" class="pt" style="stroke-width:1.1"/>
<ellipse cx="663.3" cy="499.6" rx="18.6" ry="20.6" class="pt" style="fill:#151515;stroke:#151515;stroke-width:1"/>
<path d="M673.5,499.6 Q677.1,501.4 681.1,503.2" fill="none" stroke="#fff" stroke-width="0.6"/>
<path d="M673.3,502.1 Q676.4,504.8 679.9,507.5" fill="none" stroke="#fff" stroke-width="0.6"/>
<path d="M672.5,504.5 Q675.1,507.9 677.9,511.4" fill="none" stroke="#fff" stroke-width="0.6"/>
<path d="M671.3,506.7 Q673.1,510.6 675.2,514.7" fill="none" stroke="#fff" stroke-width="0.6"/>
<path d="M669.7,508.5 Q670.6,512.7 671.8,517.2" fill="none" stroke="#fff" stroke-width="0.6"/>
<path d="M667.7,509.8 Q667.8,514.2 668.1,518.9" fill="none" stroke="#fff" stroke-width="0.6"/>
<path d="M665.6,510.6 Q664.8,515.0 664.1,519.6" fill="none" stroke="#fff" stroke-width="0.6"/>
<path d="M663.3,510.9 Q661.6,514.9 660.1,519.3" fill="none" stroke="#fff" stroke-width="0.6"/>
<path d="M661.0,510.6 Q658.6,514.1 656.2,518.0" fill="none" stroke="#fff" stroke-width="0.6"/>
<path d="M658.9,509.8 Q655.8,512.6 652.7,515.8" fill="none" stroke="#fff" stroke-width="0.6"/>
<path d="M656.9,508.5 Q653.4,510.4 649.7,512.7" fill="none" stroke="#fff" stroke-width="0.6"/>
<path d="M655.3,506.7 Q651.4,507.7 647.4,509.1" fill="none" stroke="#fff" stroke-width="0.6"/>
<path d="M654.1,504.5 Q650.1,504.6 645.9,504.9" fill="none" stroke="#fff" stroke-width="0.6"/>
<path d="M653.3,502.1 Q649.4,501.2 645.3,500.5" fill="none" stroke="#fff" stroke-width="0.6"/>
<path d="M653.1,499.6 Q649.5,497.8 645.5,496.0" fill="none" stroke="#fff" stroke-width="0.6"/>
<path d="M653.3,497.1 Q650.2,494.4 646.7,491.7" fill="none" stroke="#fff" stroke-width="0.6"/>
<path d="M654.1,494.7 Q651.5,491.3 648.7,487.8" fill="none" stroke="#fff" stroke-width="0.6"/>
<path d="M655.3,492.5 Q653.5,488.6 651.4,484.5" fill="none" stroke="#fff" stroke-width="0.6"/>
<path d="M656.9,490.7 Q656.0,486.5 654.8,482.0" fill="none" stroke="#fff" stroke-width="0.6"/>
<path d="M658.9,489.4 Q658.8,485.0 658.5,480.3" fill="none" stroke="#fff" stroke-width="0.6"/>
<path d="M661.0,488.6 Q661.8,484.2 662.5,479.6" fill="none" stroke="#fff" stroke-width="0.6"/>
<path d="M663.3,488.3 Q665.0,484.3 666.5,479.9" fill="none" stroke="#fff" stroke-width="0.6"/>
<path d="M665.6,488.6 Q668.0,485.1 670.4,481.2" fill="none" stroke="#fff" stroke-width="0.6"/>
<path d="M667.7,489.4 Q670.8,486.6 673.9,483.4" fill="none" stroke="#fff" stroke-width="0.6"/>
<path d="M669.7,490.7 Q673.2,488.8 676.9,486.5" fill="none" stroke="#fff" stroke-width="0.6"/>
<path d="M671.3,492.5 Q675.2,491.5 679.2,490.1" fill="none" stroke="#fff" stroke-width="0.6"/>
<path d="M672.5,494.7 Q676.5,494.6 680.7,494.3" fill="none" stroke="#fff" stroke-width="0.6"/>
<path d="M673.3,497.1 Q677.2,498.0 681.3,498.7" fill="none" stroke="#fff" stroke-width="0.6"/>
<ellipse cx="665.3" cy="497.7" rx="7.6" ry="8.0" class="pt" style="stroke-width:1.3"/>
<ellipse cx="665.6" cy="497.6" rx="4.3" ry="5.0" class="pn" style="stroke-width:1.1"/>
<line x1="662.0" y1="499.0" x2="668.0" y2="495.5" class="th"/>
<polyline points="665.3,497.5 713.0,479.6" class="ax" />
<ellipse cx="711.5" cy="479.2" rx="10.0" ry="10.6" class="pt" style="stroke-width:1.2"/>
<ellipse cx="714.0" cy="478.2" rx="9.0" ry="10.2" class="pt" style="stroke-width:1.3"/>
<ellipse cx="715.5" cy="477.1" rx="3.9" ry="4.3" class="pn" style="stroke-width:1.5"/>
<ellipse cx="715.8" cy="477.0" rx="1.8" ry="2.2" class="pn" style="stroke-width:0.8"/>
<polyline points="716.0,478.4 752.0,464.0" class="ax" />
<path d="M743.9,155.3 L751.9,148.6 L779.9,161.4 C801.2,152.6 833.1,155.3 849.1,164.6 L862.4,169.9 L877,181.9 L877,186.4 C890.3,209.9 895.7,236.5 894,252 C892,275 885,290 873,305.7 C862,317 850,321 838.6,323.2 L829.3,332 L813.3,339.2 L801.3,328.6 L796,321.9 L782,315.2 L781.3,311.2 L728.3,209 L735,205.4 L735.6,200.5 L730.7,196.9 L720.4,196.3 L719.8,192.1 L736.8,184.8 L738.6,167.8 Z" fill="#fff" stroke="#111" stroke-width="1.5" stroke-linejoin="round"/>
<path d="M796.4,172.2 C805,168 812,166 816.3,166.2 C826,166 834,168 840.8,170.6" fill="none" stroke="#1a1a1a" stroke-width="1.1" stroke-linejoin="round" />
<path d="M850.1,165.2 L840.8,170.6 L826,179" fill="none" stroke="#1a1a1a" stroke-width="1.1" stroke-linejoin="round" />
<path d="M825,179.9 L850.1,165.2" fill="none" stroke="#1a1a1a" stroke-width="1.1" stroke-linejoin="round" />
<path d="M826.1,187.5 L862.1,170.6" fill="none" stroke="#1a1a1a" stroke-width="2.4" stroke-linejoin="round" />
<path d="M822.9,219.1 L828.3,199.5 L869.7,176 L877.9,183.1 L876.3,188.6 Z" fill="#fff" stroke="#1a1a1a" stroke-width="1.3" stroke-linejoin="round" />
<path d="M862.1,170.6 L869.7,176" fill="none" stroke="#1a1a1a" stroke-width="1.1" stroke-linejoin="round" />
<ellipse cx="848.5" cy="196.2" rx="1.7" ry="2.0" fill="#fff" stroke="#1a1a1a" stroke-width="1.1"/>
<ellipse cx="867.5" cy="185.3" rx="1.7" ry="2.0" fill="#fff" stroke="#1a1a1a" stroke-width="1.1"/>
<path d="M869.7,188.6 C878,198 884,212 887,235 C889,255 884,276 874,293 C866,305 860,310 850,318" fill="none" stroke="#1a1a1a" stroke-width="1.1" stroke-linejoin="round" />
<path d="M846.8,207.1 C855,218 860,228 861,240 C862,252 857,262 849.3,267.3" fill="none" stroke="#1a1a1a" stroke-width="1.0" stroke-linejoin="round" />
<path d="M845.3,271.3 C855,285 860,297 862.6,308.6" fill="none" stroke="#1a1a1a" stroke-width="0.9" stroke-linejoin="round" />
<path d="M793.3,297.9 L894.5,242" fill="none" stroke="#1a1a1a" stroke-width="1.8" stroke-linejoin="round" />
<path d="M796,307.3 L893.9,252.6" fill="none" stroke="#1a1a1a" stroke-width="3.0" stroke-linejoin="round" />
<path d="M853.3,283.3 L863.9,282.6 L858.6,290 Z" fill="#fff" stroke="#1a1a1a" stroke-width="1.0" stroke-linejoin="round" />
<path d="M831.3,299.3 L853.3,288.6 L854.5,291.5 L832.5,302.3 Z" fill="#fff" stroke="#1a1a1a" stroke-width="1.1" stroke-linejoin="round" />
<path d="M823,325 L873.2,301.9" fill="none" stroke="#1a1a1a" stroke-width="0.9" stroke-linejoin="round" />
<path d="M781.3,311.2 L788,307.9 L800,313.9 L796,321.9 L782,315.2 Z" fill="#fff" stroke="#1a1a1a" stroke-width="1.1" stroke-linejoin="round" />
<path d="M783.5,311.5 L797,318 M785,310.2 L798.5,316.5" fill="none" stroke="#1a1a1a" stroke-width="0.9" stroke-linejoin="round" />
<path d="M796,321.9 L816,307.3 L829.3,331.2 L813.3,339.2 L801.3,328.6 Z" fill="#fff" stroke="#1a1a1a" stroke-width="1.2" stroke-linejoin="round" />
<path d="M816,307.3 L797,318" fill="none" stroke="#1a1a1a" stroke-width="1.0" stroke-linejoin="round" />
<path d="M821.3,335.2 L838.6,323.2 L829.3,331.2" fill="none" stroke="#1a1a1a" stroke-width="1.0" stroke-linejoin="round" />
<path d="M805,332 L812,337" fill="none" stroke="#1a1a1a" stroke-width="0.9" stroke-linejoin="round" />
<path d="M 738.6,167.8 C 738.0,173.9 738.6,182.4 739.2,188.4 L 741.0,190.8 751.3,193.3 761.0,190.8 771.9,188.4 782.8,180.0 782.8,169.1 755.0,161.8 Z" fill="#fff" stroke="#111" stroke-width="1.3" stroke-linejoin="round" />
<path d="M 741.0,178.7 L 768.3,188.4" fill="none" stroke="#111" stroke-width="2.6" stroke-linejoin="round" />
<path d="M 742.8,176.3 L 755.0,170.3 770.1,171.5 770.1,187.2" fill="none" stroke="#111" stroke-width="1.3" stroke-linejoin="round" />
<path d="M 768.9,187.2 L 782.8,180.0" fill="none" stroke="#111" stroke-width="2.0" stroke-linejoin="round" />
<path d="M 770.7,173.3 L 780.4,170.3 M 742.8,187.2 757.4,192.1 M 742.2,189.0 756.8,193.9 M 741.6,190.8 756.2,195.7" fill="none" stroke="#111" stroke-width="1.0" stroke-linejoin="round" />
<path d="M 740.4,188.4 L 761.0,196.9" fill="none" stroke="#111" stroke-width="1.3" stroke-linejoin="round" />
<path d="M 728.3,209.0 L 735.0,205.4 735.6,200.5 730.7,196.9 720.4,196.3 719.8,192.1 736.8,184.8 738.6,186.0" fill="#fff" stroke="#111" stroke-width="1.3" stroke-linejoin="round" />
<path d="M 721.1,193.9 L 736.8,187.8" fill="none" stroke="#111" stroke-width="0.9" stroke-linejoin="round" />
<circle cx="742.2" cy="196.9" r="2.0" fill="#fff" stroke="#111" stroke-width="1.2"/>
<path d="M 743.5,155.7 L 753.7,147.9 801.0,175.7 801.0,178.7 790.7,186.0 744.1,162.4 Z" fill="#fff" stroke="#111" stroke-width="1.4" stroke-linejoin="round" />
<path d="M 744.1,158.2 L 790.7,183.0 801.0,175.7" fill="none" stroke="#111" stroke-width="1.2" stroke-linejoin="round" />
<path d="M 790.7,183.0 L 790.7,186.0" fill="none" stroke="#111" stroke-width="1.1" stroke-linejoin="round" />
<path d="M 751.3,161.2 L 790.1,181.2" fill="none" stroke="#111" stroke-width="0.9" stroke-linejoin="round" />
<circle cx="747.4" cy="159.4" r="2.0" fill="#fff" stroke="#111" stroke-width="1.2"/>
<circle cx="788.0" cy="182.6" r="2.0" fill="#fff" stroke="#111" stroke-width="1.2"/>
<path d="M 749.5,198.1 C 746.6,210.7 754.4,232.0 773.8,239.8 C 781.5,242.2 787.3,237.8 787.8,228.1 L 789.3,227.2 C 792.2,220.4 789.3,210.7 781.5,201.0 C 773.8,191.3 764.1,189.4 759.2,190.8 Z" fill="#fff" stroke="#1a1a1a" stroke-width="1.3" stroke-linejoin="round" />
<path d="M 753.4,199.1 C 751.5,210.7 757.3,230.1 773.8,236.9 C 780.5,239.3 785.4,235.9 785.9,228.1" fill="none" stroke="#1a1a1a" stroke-width="0.9" stroke-linejoin="round" />
<path d="M 770.9,194.2 C 767.0,198.1 767.9,213.6 775.7,222.3 C 780.5,227.2 786.4,228.1 787.3,224.3" fill="none" stroke="#1a1a1a" stroke-width="1.4" stroke-linejoin="round" />
<path d="M 770.9,194.2 C 775.7,192.3 785.4,199.1 789.3,210.7 C 791.2,218.4 790.2,225.2 787.3,224.3" fill="#fff" stroke="#1a1a1a" stroke-width="1.4" stroke-linejoin="round" />
<path d="M 773.3,197.1 C 770.9,202.0 772.8,214.6 778.6,220.4" fill="none" stroke="#1a1a1a" stroke-width="0.9" stroke-linejoin="round" />
<path d="M 776.7,200.0 L 794.1,208.8 794.1,212.6 777.6,203.4 Z" fill="#1a1a1a" stroke="#1a1a1a" stroke-width="1.0" stroke-linejoin="round" />
<path d="M 785.4,220.4 L 794.1,215.5" fill="none" stroke="#1a1a1a" stroke-width="1.0" stroke-linejoin="round" />
<circle cx="791.8" cy="229.8" r="1.7" fill="#fff" stroke="#1a1a1a" stroke-width="1.0"/>
<circle cx="774.5" cy="248.5" r="1.7" fill="#fff" stroke="#1a1a1a" stroke-width="1.0"/>
<path d="M 789.3,191.3 L 801.9,173.9 C 810.6,171.9 826.1,178.7 826.1,191.3 C 826.1,202.0 820.3,210.7 812.5,213.6 L 810.6,220.4 795.1,224.3 Z" fill="#fff" stroke="#1a1a1a" stroke-width="1.2" stroke-linejoin="round" />
<path d="M 805.7,180.7 C 817.4,178.7 824.1,185.5 823.7,193.3 C 823.2,202.0 817.4,207.8 810.6,210.7" fill="none" stroke="#1a1a1a" stroke-width="0.9" stroke-linejoin="round" />
<path d="M 787.3,193.3 L 795.1,195.2 809.6,188.4 809.6,218.4 795.1,224.3 Z" fill="#fff" stroke="#1a1a1a" stroke-width="1.3" stroke-linejoin="round" />
<path d="M 795.1,195.2 L 795.1,224.3" fill="none" stroke="#1a1a1a" stroke-width="1.3" stroke-linejoin="round" />
<path d="M 793.1,194.2 L 793.1,225.2" fill="none" stroke="#1a1a1a" stroke-width="0.9" stroke-linejoin="round" />
<circle cx="803.8" cy="204.5" r="1.6" fill="#fff" stroke="#1a1a1a" stroke-width="1.0"/>
<path d="M 785.4,224.3 L 795.1,230.1 812.5,222.3" fill="none" stroke="#1a1a1a" stroke-width="1.2" stroke-linejoin="round" />
<path d="M 793.1,180.7 L 802.8,175.8 804.8,179.7" fill="none" stroke="#1a1a1a" stroke-width="1.0" stroke-linejoin="round" />
<path d="M 770.0,242.2 L 776.5,251.0 779.8,247.7 786.3,251.0 786.3,284.8" fill="none" stroke="#111" stroke-width="1.1" stroke-linejoin="round" />
<path d="M 776.5,251.0 L 780.9,271.7 786.3,276.0" fill="none" stroke="#111" stroke-width="1.0" stroke-linejoin="round" />
<path d="M 775.4,285.8 L 786.3,282.6 786.3,291.3 776.5,289.1 Z" fill="#fff" stroke="#111" stroke-width="1.1" stroke-linejoin="round" />
<ellipse cx="783.1" cy="256.4" rx="2.8" ry="6.5" class="pn" style="stroke-width:1.0"/>
<path d="M 787.4,229.2 L 787.4,291.3 792.3,300.0 792.3,229.2 Z" fill="#bbb" stroke="#111" stroke-width="1.3" stroke-linejoin="round" />
<path d="M 789.6,230.3 L 789.6,290.2" fill="none" stroke="#111" stroke-width="0.8" stroke-linejoin="round" />
<path d="M 792.3,229.2 L 812.0,221.5 812.0,269.5 807.1,276.0 792.3,284.8 Z" fill="#fff" stroke="#111" stroke-width="1.3" stroke-linejoin="round" />
<path d="M 793.4,229.7 L 793.4,234.6 812.0,227.0" fill="none" stroke="#111" stroke-width="1.0" stroke-linejoin="round" />
<path d="M 807.1,246.6 L 811.4,245.0 811.4,279.3 807.1,281.5 Z" fill="#444" stroke="#111" stroke-width="1.0" stroke-linejoin="round" />
<path d="M 800.5,251.0 L 803.2,249.9 803.2,256.4 800.5,257.5 Z" fill="#222" stroke="#111" stroke-width="0.8" stroke-linejoin="round" />
<path d="M 795.1,255.3 L 797.2,254.5 797.2,260.8 795.1,261.6 Z" fill="#222" stroke="#111" stroke-width="0.8" stroke-linejoin="round" />
<circle cx="800.0" cy="264.6" r="2.3" fill="#fff" stroke="#111" stroke-width="1.1"/>
<path d="M 795.1,266.2 L 799.4,270.6 795.1,276.0" fill="none" stroke="#111" stroke-width="1.0" stroke-linejoin="round" />
<path d="M 795.6,283.7 L 797.8,271.7" fill="none" stroke="#111" stroke-width="1.6" stroke-linejoin="round" />
<path d="M 798.3,282.4 L 800.5,270.4" fill="none" stroke="#111" stroke-width="1.6" stroke-linejoin="round" />
<path d="M 801.1,281.0 L 803.2,269.1" fill="none" stroke="#111" stroke-width="1.6" stroke-linejoin="round" />
<path d="M 803.8,279.7 L 806.0,267.8" fill="none" stroke="#111" stroke-width="1.6" stroke-linejoin="round" />
<path d="M 806.5,278.4 L 808.7,266.4" fill="none" stroke="#111" stroke-width="1.6" stroke-linejoin="round" />
<path d="M 809.2,277.1 L 811.4,265.1" fill="none" stroke="#111" stroke-width="1.6" stroke-linejoin="round" />
<path d="M 792.9,285.8 L 811.4,273.9" fill="none" stroke="#111" stroke-width="1.2" stroke-linejoin="round" />
<path d="M 823.4,220.4 L 835.4,217.2 838.7,221.5 843.0,220.4 845.2,225.9 841.9,228.1 846.3,232.4 837.6,235.7" fill="none" stroke="#111" stroke-width="1.0" stroke-linejoin="round" />
<ellipse cx="829.4" cy="229.7" rx="5.5" ry="6.5" class="pt" style="stroke-width:1.4"/>
<ellipse cx="830.9" cy="229.2" rx="3.8" ry="5.0" class="pn" style="stroke-width:1.0"/>
<path d="M 812.5,229.2 L 820.1,225.9 821.2,229.2 813.6,232.4 Z" fill="#fff" stroke="#111" stroke-width="1.2" stroke-linejoin="round" />
<path d="M 813.6,242.2 L 823.4,236.8 825.0,239.5 814.7,245.0 Z" fill="#fff" stroke="#111" stroke-width="1.2" stroke-linejoin="round" />
<path d="M 816.9,252.1 L 845.2,240.1 846.3,243.3 818.0,255.3 Z" fill="#fff" stroke="#111" stroke-width="1.2" stroke-linejoin="round" />
<path d="M 836.5,239.0 L 837.6,251.0" fill="none" stroke="#111" stroke-width="0.9" stroke-linejoin="round" />
<path d="M 812.5,265.1 L 846.3,247.7" fill="none" stroke="#111" stroke-width="1.2" stroke-linejoin="round" />
<path d="M 813.1,260.8 L 846.3,246.6" fill="none" stroke="#111" stroke-width="0.9" stroke-linejoin="round" />
<path d="M 874.6,490.7 L 901.3,506.0" class="ax" />
<path d="M 910.6,511.3 L 878.6,529.9 886.0,534.6" class="ax" />
<path d="M 940.5,512.6 L 940.5,518.6 901.3,540.6 901.3,590.0" class="ax" />
<polyline points="900.6,565.0 900.6,690.0" class="ax" />
<path d="M 856.7,550.6 L 886.0,540.6" class="ax" />
<path d="M 867.3,547.2 L 871.3,558.6 883.3,555.2" class="ax" />
<path d="M 889.3,563.2 L 889.3,575.2 900.6,581.2" class="ax" />
<path d="M 884.0,577.2 L 850.0,587.9" class="ax" />
<polyline points="797.8,609.4 850.0,588.0" class="ax" />
<polyline points="817.0,566.0 856.0,551.0" class="ax" />
<path d="M 915.2,573.2 L 920.6,583.9 M 928.6,570.5 933.2,578.5" class="ax" />
<polyline points="922.0,590.0 935.0,612.0" class="ax" />
<polyline points="935.0,582.0 948.0,605.0" class="ax" />
<ellipse cx="874.8" cy="490.8" rx="2.9" ry="3.2" class="pt" style="stroke-width:1.2"/>
<polygon points="874.8,487.6 886.6,494.1 886.6,500.5 874.8,494.0" class="pt" style="stroke:none"/>
<line x1="874.8" y1="487.6" x2="886.6" y2="494.1" class="pn"/>
<line x1="874.8" y1="494.0" x2="886.6" y2="500.5" class="pn"/>
<ellipse cx="886.6" cy="497.3" rx="2.9" ry="3.2" class="pt" style="stroke-width:1.2"/>
<ellipse cx="899.5" cy="507.0" rx="6.0" ry="7.3" class="pt" style="stroke-width:1.4"/>
<polygon points="899.5,499.7 901.6,498.5 901.6,513.1 899.5,514.3" class="pt" style="stroke:none"/>
<line x1="899.5" y1="499.7" x2="901.6" y2="498.5" class="pn"/>
<line x1="899.5" y1="514.3" x2="901.6" y2="513.1" class="pn"/>
<ellipse cx="901.6" cy="505.8" rx="6.0" ry="7.3" class="pt" style="stroke-width:1.4"/>
<ellipse cx="902.2" cy="505.6" rx="3.2" ry="3.9" class="pn" style="stroke-width:1.0"/>
<ellipse cx="902.4" cy="505.5" rx="1.5" ry="1.8" class="pn" style="stroke-width:0.8"/>
<ellipse cx="893.3" cy="537.6" rx="4.8" ry="5.2" class="pt" style="stroke-width:1.4"/>
<ellipse cx="894.0" cy="537.3" rx="2.4" ry="2.8" class="pn" style="stroke-width:1.0"/>
<path d="M 886.0,545.9 L 886.0,555.9 901.3,564.6 909.3,561.2 909.3,556.6 916.6,548.6 897.9,540.6 Z" fill="#fff" stroke="#1a1a1a" stroke-width="1.6" stroke-linejoin="round" />
<path d="M 886.0,545.9 L 901.3,555.2 916.6,548.6" fill="none" stroke="#1a1a1a" stroke-width="1.6" stroke-linejoin="round" />
<path d="M 901.3,555.2 L 901.3,564.6" fill="none" stroke="#1a1a1a" stroke-width="1.6" stroke-linejoin="round" />
<path d="M 901.9,555.6 L 908.6,552.6 908.6,560.8 901.9,563.9 Z" fill="#ccc" stroke="#1a1a1a" stroke-width="0.8" stroke-linejoin="round" />
<path d="M 903.3,556.6 L 903.3,563.2 M 905.3,555.6 905.3,562.3 M 907.0,554.8 907.0,561.5" fill="none" stroke="#1a1a1a" stroke-width="0.8" stroke-linejoin="round" />
<path d="M 895.3,546.6 L 904.6,542.3 909.9,545.2 900.6,549.5 Z" fill="none" stroke="#1a1a1a" stroke-width="1.1" stroke-linejoin="round" />
<path d="M 897.9,546.6 L 905.9,543.2" fill="none" stroke="#1a1a1a" stroke-width="0.9" stroke-linejoin="round" />
<path d="M 889.9,547.2 L 891.3,549.2" fill="none" stroke="#1a1a1a" stroke-width="1.0" stroke-linejoin="round" />
<ellipse cx="891.3" cy="547.2" rx="1.6" ry="1.6" class="pt" style="stroke-width:1"/>
<ellipse cx="900.6" cy="551.9" rx="1.6" ry="1.6" class="pt" style="stroke-width:1"/>
<path d="M 909.3,556.6 L 917.2,550.6 928.6,558.6 929.9,562.6 916.6,569.2 911.3,566.6 909.3,561.2 Z" fill="#fff" stroke="#1a1a1a" stroke-width="1.5" stroke-linejoin="round" />
<path d="M 910.6,555.9 L 917.9,568.5" fill="none" stroke="#1a1a1a" stroke-width="1.1" stroke-linejoin="round" />
<path d="M 912.6,554.6 L 920.6,566.6" fill="none" stroke="#1a1a1a" stroke-width="0.9" stroke-linejoin="round" />
<ellipse cx="924.6" cy="561.2" rx="2.3" ry="2.3" class="pt" style="stroke-width:1.2"/>
<path d="M 905.9,567.9 L 909.9,565.2 912.6,569.2 908.6,571.9 Z" fill="#fff" stroke="#1a1a1a" stroke-width="1.3" stroke-linejoin="round" />
<polygon points="918.0,587.5 947.0,576.5 949.5,580.2 928.0,590.2 922.5,595.2 919.5,594.0" class="pt" style="stroke-width:1.2"/>
<line x1="925.0" y1="588.0" x2="930.0" y2="593.0" class="pn"/>
<line x1="922.0" y1="590.5" x2="938.0" y2="584.0" class="th"/>
<polygon points="929.3,610.3 934.2,618.8 938.8,616.2 933.9,607.7" class="pt" style="stroke-width:1.1"/>
<line x1="930.2" y1="611.7" x2="935.0" y2="609.6" class="th"/>
<line x1="931.0" y1="613.1" x2="935.8" y2="611.0" class="th"/>
<line x1="931.8" y1="614.5" x2="936.6" y2="612.5" class="th"/>
<line x1="932.6" y1="616.0" x2="937.4" y2="613.9" class="th"/>
<polygon points="933.6,619.2 934.6,621.1 940.5,617.7 939.4,615.8" class="pt" style="stroke-width:1.1"/>
<polygon points="942.7,603.3 947.7,612.3 952.3,609.7 947.3,600.7" class="pt" style="stroke-width:1.1"/>
<line x1="943.6" y1="604.8" x2="948.4" y2="602.8" class="th"/>
<line x1="944.4" y1="606.3" x2="949.2" y2="604.3" class="th"/>
<line x1="945.2" y1="607.8" x2="950.1" y2="605.8" class="th"/>
<line x1="946.1" y1="609.3" x2="950.9" y2="607.3" class="th"/>
<polygon points="947.0,612.7 948.1,614.6 954.1,611.3 953.0,609.3" class="pt" style="stroke-width:1.1"/>
<ellipse cx="900.1" cy="639.0" rx="7.0" ry="4.2" class="pt" style="stroke-width:1.3"/>
<rect x="893.1" y="635.5" width="14.0" height="3.5" fill="#fff"/>
<line x1="893.1" y1="635.5" x2="893.1" y2="639.0" class="pn"/>
<line x1="907.1" y1="635.5" x2="907.1" y2="639.0" class="pn"/>
<ellipse cx="900.1" cy="635.5" rx="7.0" ry="4.2" class="pt" style="stroke-width:1.3"/>
<ellipse cx="900.1" cy="635.5" rx="3.1" ry="1.9" class="pn" style="stroke-width:0.9"/>
<ellipse cx="900.1" cy="653.5" rx="5.2" ry="3.0" class="pt" style="stroke-width:1.3"/>
<rect x="894.9" y="652.0" width="10.4" height="1.5" fill="#fff"/>
<line x1="894.9" y1="652.0" x2="894.9" y2="653.5" class="pn"/>
<line x1="905.3" y1="652.0" x2="905.3" y2="653.5" class="pn"/>
<ellipse cx="900.1" cy="652.0" rx="5.2" ry="3.0" class="pt" style="stroke-width:1.3"/>
<ellipse cx="900.1" cy="652.0" rx="2.6" ry="1.5" class="pn" style="stroke-width:0.9"/>
<ellipse cx="900.1" cy="673.5" rx="7.0" ry="4.2" class="pt" style="stroke-width:1.3"/>
<rect x="893.1" y="670.0" width="14.0" height="3.5" fill="#fff"/>
<line x1="893.1" y1="670.0" x2="893.1" y2="673.5" class="pn"/>
<line x1="907.1" y1="670.0" x2="907.1" y2="673.5" class="pn"/>
<ellipse cx="900.1" cy="670.0" rx="7.0" ry="4.2" class="pt" style="stroke-width:1.3"/>
<ellipse cx="900.1" cy="670.0" rx="3.1" ry="1.9" class="pn" style="stroke-width:0.9"/>
<polygon points="896.7,684.0 903.5,684.0 903.5,700.0 896.7,700.0" class="pt" style="stroke-width:1.1"/>
<line x1="896.7" y1="686.0" x2="903.5" y2="687.0" class="th"/>
<line x1="896.7" y1="688.5" x2="903.5" y2="689.5" class="th"/>
<line x1="896.7" y1="691.0" x2="903.5" y2="692.0" class="th"/>
<ellipse cx="900.1" cy="702.5" rx="5.0" ry="3.0" class="pt" style="stroke-width:1.4"/>
<ellipse cx="900.1" cy="700.5" rx="4.2" ry="2.0" class="pn" style="stroke-width:0.8"/>
<ellipse cx="812.3" cy="603.0" rx="6.6" ry="7.4" class="pt" style="stroke-width:1.3"/>
<polygon points="812.3,595.6 814.8,594.6 814.8,609.4 812.3,610.4" class="pt" style="stroke:none"/>
<ellipse cx="814.8" cy="602.0" rx="6.6" ry="7.4" class="pt" style="stroke-width:1.3"/>
<ellipse cx="815.1" cy="602.0" rx="2.3" ry="2.6" class="pn" style="stroke-width:0.9"/>
<ellipse cx="832.0" cy="596.2" rx="4.8" ry="5.8" class="pt" style="stroke-width:1.3"/>
<polygon points="832.0,590.4 833.5,589.8 833.5,601.4 832.0,602.0" class="pt" style="stroke:none"/>
<ellipse cx="833.5" cy="595.6" rx="4.8" ry="5.8" class="pt" style="stroke-width:1.3"/>
<ellipse cx="833.8" cy="595.6" rx="2.2" ry="2.6" class="pn" style="stroke-width:0.9"/>
<ellipse cx="849.7" cy="589.6" rx="6.6" ry="7.4" class="pt" style="stroke-width:1.3"/>
<polygon points="849.7,582.2 852.2,581.2 852.2,596.0 849.7,597.0" class="pt" style="stroke:none"/>
<ellipse cx="852.2" cy="588.6" rx="6.6" ry="7.4" class="pt" style="stroke-width:1.3"/>
<ellipse cx="852.5" cy="588.6" rx="2.3" ry="2.6" class="pn" style="stroke-width:0.9"/>
<polygon points="784.4,617.3 798.8,612.0 796.8,606.4 782.4,611.7" class="pt" />
<ellipse cx="787.0" cy="613.2" rx="1.4" ry="3.2" class="th" transform="rotate(-20.206418562955957 787.0 613.2)" />
<ellipse cx="790.6" cy="611.9" rx="1.4" ry="3.2" class="th" transform="rotate(-20.206418562955957 790.6 611.9)" />
<ellipse cx="794.2" cy="610.5" rx="1.4" ry="3.2" class="th" transform="rotate(-20.206418562955957 794.2 610.5)" />
<ellipse cx="797.8" cy="609.2" rx="1.5" ry="3.0" class="pt" transform="rotate(-20.206418562955957 797.8 609.2)" />
<ellipse cx="783.4" cy="614.5" rx="3.4" ry="4.6" class="pt" transform="rotate(-20.206418562955957 783.4 614.5)" />
<ellipse cx="784.5" cy="614.1" rx="2.3" ry="3.7" class="th" transform="rotate(-20.206418562955957 784.5 614.1)" />
<polygon points="807.7,572.2 817.9,568.4 816.1,563.6 805.9,567.4" class="pt" />
<ellipse cx="810.2" cy="568.5" rx="1.2" ry="2.7" class="th" transform="rotate(-20.43282867939838 810.2 568.5)" />
<ellipse cx="813.6" cy="567.3" rx="1.2" ry="2.7" class="th" transform="rotate(-20.43282867939838 813.6 567.3)" />
<ellipse cx="817.0" cy="566.0" rx="1.3" ry="2.6" class="pt" transform="rotate(-20.43282867939838 817.0 566.0)" />
<ellipse cx="806.8" cy="569.8" rx="2.8" ry="3.8" class="pt" transform="rotate(-20.43282867939838 806.8 569.8)" />
<ellipse cx="807.9" cy="569.4" rx="1.9" ry="3.0" class="th" transform="rotate(-20.43282867939838 807.9 569.4)" />
<ellipse cx="834.6" cy="558.8" rx="3.5" ry="4.0" class="pt" style="stroke-width:1.8"/>
<ellipse cx="834.9" cy="558.7" rx="1.4" ry="1.6" class="pn" style="stroke-width:0.8"/>
<ellipse cx="856.8" cy="551.0" rx="3.5" ry="4.0" class="pt" style="stroke-width:1.8"/>
<ellipse cx="857.1" cy="550.9" rx="1.4" ry="1.6" class="pn" style="stroke-width:0.8"/>
<line x1="812.4" y1="339.5" x2="812.4" y2="357.5" class="th"/>
<circle cx="491.9" cy="361.2" r="9.5" class="cl"/>
<text x="491.9" y="366.7" class="cll">G</text>
<circle cx="703.5" cy="226.2" r="9.5" class="cl"/>
<text x="703.5" y="231.7" class="cll">F</text>
<circle cx="812.4" cy="367.4" r="9.5" class="cl"/>
<text x="812.4" y="372.9" class="cll">H</text>
<circle cx="940.0" cy="503.2" r="9.5" class="cl"/>
<text x="940.0" y="508.7" class="cll">H</text>
</svg>
</body></html>
